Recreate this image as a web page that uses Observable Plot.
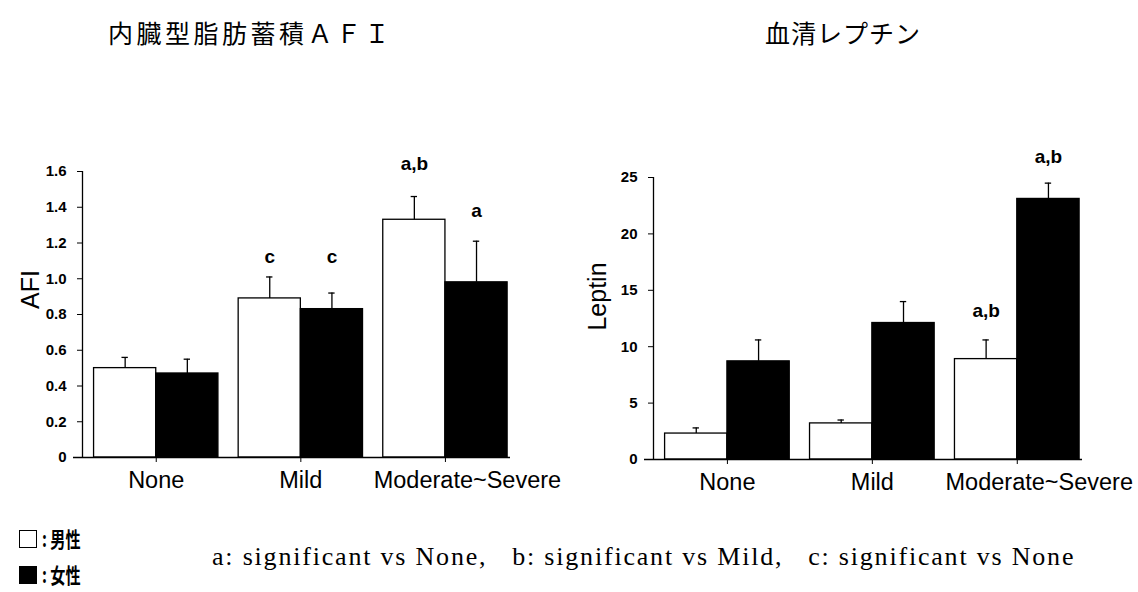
<!DOCTYPE html>
<html>
<head>
<meta charset="utf-8">
<script src="https://cdn.jsdelivr.net/npm/d3@7"></script>
<script src="https://cdn.jsdelivr.net/npm/@observablehq/plot@0.6"></script>
<style>
  html, body { margin: 0; padding: 0; background: #fff; }
  #fig { position: relative; width: 1138px; height: 592px; background: #fff; overflow: hidden; font-family: "Liberation Sans", Arial, sans-serif; }
  .title { position: absolute; font-family: "Noto Sans CJK JP", sans-serif; font-size: 25px; color: #000; white-space: nowrap; line-height: 1; }
  .chart { position: absolute; }
  .legend { position: absolute; font-family: "Noto Sans CJK JP", sans-serif; font-size: 21px; font-weight: bold; display: flex; align-items: center; line-height: 1; }
  .legend span { display: inline-block; transform: scaleX(0.72); transform-origin: left center; }
  .sw { width: 18px; height: 18px; border: 1.5px solid #000; margin-right: 5px; box-sizing: border-box; }
  .note { position: absolute; font-family: "Liberation Serif", "Times New Roman", serif; font-size: 26px; letter-spacing: 1.8px; white-space: nowrap; line-height: 1; }
</style>
</head>
<body>
<div id="fig">
  <div class="title" style="left:108px; top:20px; letter-spacing:3.5px;">内臓型脂肪蓄積ＡＦＩ</div>
  <div class="title" style="left:765px; top:20px; letter-spacing:1px;">血清レプチン</div>
  <div id="left" class="chart" style="left:0px; top:140px;"></div>
  <div id="right" class="chart" style="left:570px; top:140px;"></div>
  <div class="legend" style="left:19px; top:528px;"><div class="sw" style="background:#fff"></div><span>: 男性</span></div>
  <div class="legend" style="left:19px; top:564px;"><div class="sw" style="background:#000"></div><span>: 女性</span></div>
  <div class="note" style="left:212px; top:544px;">a: significant vs None,&nbsp;&nbsp; b: significant vs Mild,&nbsp;&nbsp; c: significant vs None</div>
</div>
<script>
// ---- data ----
const categories = ["None", "Mild", "Moderate~Severe"];
const sexes = ["男性", "女性"];

const afiMale = [0.50, 0.89, 1.33];
const afiMaleSE = [0.06, 0.12, 0.13];
const afiFemale = [0.47, 0.83, 0.98];
const afiFemaleSE = [0.08, 0.09, 0.23];
const afiTicks = [0, 0.2, 0.4, 0.6, 0.8, 1.0, 1.2, 1.4, 1.6];
const afiSig = [
  {cat: "Mild", sex: "男性", text: "c", level: 1.12},
  {cat: "Mild", sex: "女性", text: "c", level: 1.12},
  {cat: "Moderate~Severe", sex: "男性", text: "a,b", level: 1.645},
  {cat: "Moderate~Severe", sex: "女性", text: "a", level: 1.38}
];

const leptinMale = [2.3, 3.2, 8.9];
const leptinMaleSE = [0.5, 0.3, 1.7];
const leptinFemale = [8.7, 12.1, 23.1];
const leptinFemaleSE = [1.9, 1.9, 1.4];
const leptinTicks = [0, 5, 10, 15, 20, 25];
const leptinSig = [
  {cat: "Moderate~Severe", sex: "男性", text: "a,b", level: 13.2},
  {cat: "Moderate~Severe", sex: "女性", text: "a,b", level: 26.8}
];

// ---- layout helpers ----
const HALF = 0.43;           // half of a group's width, in category units
const xDomain = [-0.51, 2.45];

function rowsOf(male, maleSE, female, femaleSE) {
  return categories.flatMap((c, i) => [
    {cat: c, i, sex: sexes[0], value: male[i], se: maleSE[i]},
    {cat: c, i, sex: sexes[1], value: female[i], se: femaleSE[i]}
  ]);
}
const left0 = d => d.sex === sexes[0] ? d.i - HALF : d.i;
const right0 = d => d.sex === sexes[0] ? d.i : d.i + HALF;
const center = d => d.sex === sexes[0] ? d.i - HALF / 2 : d.i + HALF / 2;
const sigX = d => {
  const i = categories.indexOf(d.cat);
  return d.sex === sexes[0] ? i - HALF / 2 : i + HALF / 2;
};

function chart({rows, sig, ticks, yLabel, tickFormat, width, height, marginLeft, marginRight, marginTop, marginBottom, labelDx, labelDy}) {
  const yDomain = [ticks[0], ticks[ticks.length - 1]];
  const idx = categories.map((c, i) => i);
  const catFont = {tickSize: 0, tickPadding: 14, fontSize: 23.5, label: null, tickFormat: i => categories[i]};
  return Plot.plot({
    width, height, marginLeft, marginRight, marginTop, marginBottom,
    style: {fontFamily: "'Liberation Sans', Arial, sans-serif", background: "transparent", color: "#000"},
    x: {domain: xDomain},
    y: {domain: yDomain},
    color: {domain: sexes, range: ["white", "black"]},
    marks: [
      Plot.rectY(rows, {x1: left0, x2: right0, y1: 0, y2: "value", fill: "sex", stroke: "black", strokeWidth: 1.3}),
      Plot.ruleX(rows, {x: center, y1: "value", y2: d => d.value + d.se, stroke: "black", strokeWidth: 1.3}),
      Plot.ruleY(rows, {y: d => d.value + d.se, x1: d => center(d) - 0.022, x2: d => center(d) + 0.022, stroke: "black", strokeWidth: 1.3}),
      Plot.ruleY([0], {insetLeft: -9, stroke: "black", strokeWidth: 1.3}),
      Plot.ruleX([xDomain[0]], {y1: yDomain[0], y2: yDomain[1], stroke: "black", strokeWidth: 1.3}),
      Plot.axisY({ticks, tickFormat, tickSize: 5, tickPadding: 11, fontSize: 15, fontWeight: "bold", label: null}),
      // tick marks at group centres
      Plot.axisX({ticks: idx, tickSize: 5, tickFormat: () => "", label: null}),
      // category labels (the long one sits a little to the right, as in the original)
      Plot.axisX({...catFont, ticks: idx.slice(0, 2)}),
      Plot.axisX({...catFont, ticks: idx.slice(2), dx: 22}),
      Plot.text([yLabel], {frameAnchor: "left", textAnchor: "middle", text: d => d, rotate: -90, dx: labelDx, dy: labelDy, fontSize: 25, fill: "black"}),
      Plot.text(sig, {x: sigX, y: "level", text: "text", fontSize: 19, fontWeight: "bold", fill: "black"})
    ]
  });
}

document.getElementById("left").appendChild(chart({
  rows: rowsOf(afiMale, afiMaleSE, afiFemale, afiFemaleSE),
  sig: afiSig, ticks: afiTicks, yLabel: "AFI",
  tickFormat: d => d === 0 ? "0" : d.toFixed(1),
  width: 570, height: 362, marginLeft: 82, marginRight: 60, marginTop: 31, marginBottom: 45,
  labelDx: -52, labelDy: -25
}));

document.getElementById("right").appendChild(chart({
  rows: rowsOf(leptinMale, leptinMaleSE, leptinFemale, leptinFemaleSE),
  sig: leptinSig, ticks: leptinTicks, yLabel: "Leptin",
  tickFormat: d => String(d),
  width: 568, height: 362, marginLeft: 83, marginRight: 56, marginTop: 37, marginBottom: 43,
  labelDx: -56, labelDy: -22
}));
</script>
</body>
</html>
